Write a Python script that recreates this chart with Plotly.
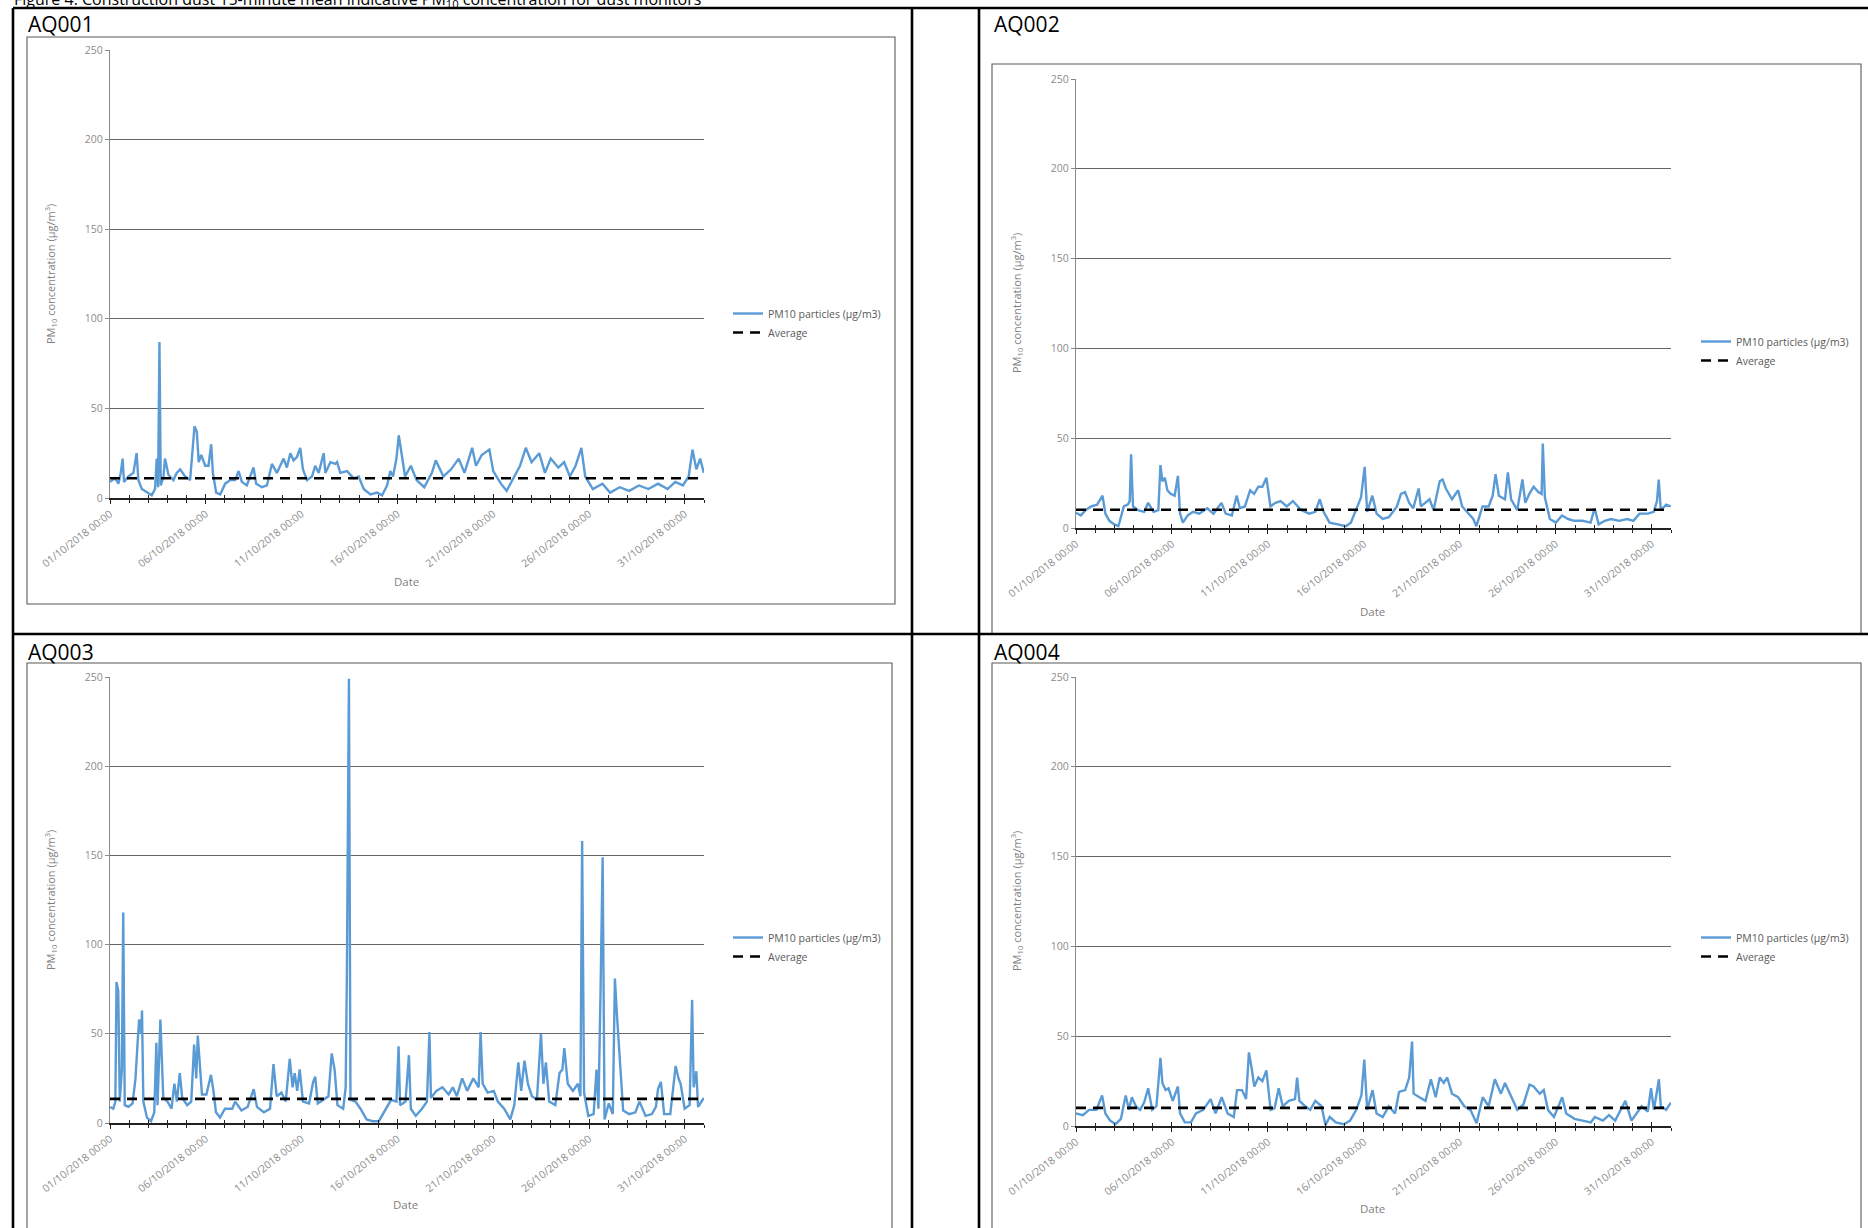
import pandas as pd
import plotly.graph_objects as go

W, H = 1868, 1228
START = pd.Timestamp("2018-10-01 00:00")
END = pd.Timestamp("2018-11-01 00:00")

figure_title = ("Figure 4: Construction dust 15-minute mean indicative PM<sub>10</sub> "
                "concentration for dust monitors")
monitors = ["AQ001", "AQ002", "AQ003", "AQ004"]
series_names = ["PM10 particles (µg/m3)", "Average"]
tick_days = [0, 5, 10, 15, 20, 25, 30]
tick_labels = ["01/10/2018 00:00", "06/10/2018 00:00", "11/10/2018 00:00", "16/10/2018 00:00",
               "21/10/2018 00:00", "26/10/2018 00:00", "31/10/2018 00:00"]
y_ticks = [0, 50, 100, 150, 200, 250]
y_title = "PM<sub>10</sub> concentration (µg/m<sup>3</sup>)"
x_title = "Date"

# ---- readings (days since 01/10/2018 00:00, PM10 µg/m3) ----
aq001_day = [0.00, 0.26, 0.44, 0.56, 0.66, 0.73, 0.96, 1.22, 1.39, 1.48,
             1.66, 1.92, 2.18, 2.35, 2.44, 2.51, 2.58, 2.65, 2.79, 2.87,
             3.05, 3.31, 3.48, 3.66, 3.92, 4.18, 4.41, 4.53, 4.63, 4.76,
             4.97, 5.14, 5.28, 5.37, 5.54, 5.75, 6.01, 6.27, 6.53, 6.71,
             6.88, 7.14, 7.49, 7.63, 7.93, 8.19, 8.45, 8.71, 8.89, 9.06,
             9.23, 9.41, 9.58, 9.76, 9.93, 10.07, 10.28, 10.54, 10.71, 10.89,
             11.15, 11.24, 11.50, 11.76, 11.85, 12.02, 12.37, 12.54, 12.72, 12.98,
             13.24, 13.59, 13.94, 14.20, 14.46, 14.63, 14.77, 14.95, 15.07, 15.4,
             15.7, 16.0, 16.4, 16.8, 17.0, 17.4, 17.8, 18.2, 18.5, 18.9,
             19.1, 19.4, 19.8, 20.0, 20.4, 20.7, 21.1, 21.4, 21.7, 22.0,
             22.4, 22.7, 23.0, 23.4, 23.7, 24.0, 24.3, 24.6, 24.8, 25.2,
             25.7, 26.1, 26.6, 27.1, 27.6, 28.1, 28.6, 29.1, 29.5, 29.9,
             30.2, 30.4, 30.6, 30.8, 30.99]
aq001_pm10 = [9, 11, 8, 14, 22, 9, 12, 14, 25, 10,
              5, 3, 1.5, 5, 22, 6, 87, 7, 12, 22,
              13, 10, 14, 16, 12, 10, 40, 37, 20, 24,
              18, 18, 30, 14, 3, 2, 8, 10, 10, 15,
              9, 7, 17, 8, 6, 7, 19, 14, 18, 22,
              17, 25, 21, 23, 28, 16, 10, 12, 18, 14,
              25, 14, 20, 19, 20, 14, 15, 13, 11, 12,
              5, 2, 3, 1.5, 7, 15, 12, 22, 35, 12,
              18, 10, 6, 14, 21, 12, 16, 22, 14, 28,
              18, 24, 27, 15, 8, 4, 12, 18, 28, 20,
              25, 14, 22, 17, 20, 12, 18, 28, 12, 5,
              8, 3, 6, 4, 7, 5, 8, 5, 9, 7,
              12, 27, 16, 22, 14]

aq002_day = [0.00, 0.25, 0.51, 0.79, 1.10, 1.38, 1.53, 1.74, 2.00, 2.21,
             2.49, 2.70, 2.80, 2.87, 2.97, 3.23, 3.55, 3.76, 4.04, 4.29,
             4.40, 4.50, 4.63, 4.76, 4.93, 5.14, 5.31, 5.42, 5.57, 5.82,
             6.10, 6.42, 6.84, 7.16, 7.58, 7.80, 8.12, 8.37, 8.54, 8.80,
             9.07, 9.28, 9.50, 9.71, 9.92, 10.13, 10.39, 10.66, 10.98, 11.30,
             11.73, 12.15, 12.47, 12.70, 12.90, 13.21, 13.64, 14.06, 14.32, 14.60,
             14.85, 15.04, 15.17, 15.44, 15.66, 15.98, 16.30, 16.72, 16.93, 17.14,
             17.36, 17.57, 17.85, 17.97, 18.21, 18.42, 18.63, 18.95, 19.10, 19.27,
             19.59, 19.91, 20.12, 20.44, 20.70, 20.86, 21.18, 21.50, 21.71, 21.86,
             22.03, 22.35, 22.50, 22.67, 22.99, 23.26, 23.41, 23.62, 23.84, 24.09,
             24.26, 24.32, 24.43, 24.69, 25.00, 25.32, 25.64, 25.96, 26.39, 26.81,
             27.02, 27.23, 27.55, 27.87, 28.30, 28.72, 29.04, 29.36, 29.79, 30.10,
             30.27, 30.36, 30.47, 30.75, 30.99]
aq002_pm10 = [8.5, 7, 10, 12, 13, 18, 8, 4, 2, 1,
              12, 13, 15, 41, 12, 10, 9, 14, 9, 10,
              35, 26, 28, 21, 19, 18, 29, 8, 3, 7,
              9, 8, 11, 8, 14, 8, 7, 18, 11, 12,
              21, 19, 23, 23, 28, 12, 14, 15, 12, 15,
              10, 8, 9, 16, 9, 3, 2, 1, 3, 10,
              17, 34, 9, 18, 8, 5, 6, 12, 19, 20,
              14, 11, 22, 12, 14, 16, 10, 26, 27, 22,
              16, 21, 12, 8, 5, 1, 12, 12, 18, 30,
              18, 16, 31, 16, 10, 27, 14, 19, 23, 20,
              19, 47, 17, 5, 3, 7, 5, 4, 4, 3,
              11, 2, 4, 5, 4, 5, 4, 8, 8, 9,
              15, 27, 10, 13, 12]

aq003_day = [0.00, 0.17, 0.28, 0.34, 0.43, 0.51, 0.62, 0.69, 0.77, 0.96,
             1.18, 1.33, 1.44, 1.52, 1.63, 1.67, 1.74, 1.93, 2.14, 2.31,
             2.42, 2.48, 2.63, 2.70, 2.78, 3.00, 3.21, 3.36, 3.49, 3.64,
             3.77, 4.03, 4.24, 4.39, 4.50, 4.58, 4.67, 4.80, 5.03, 5.27,
             5.40, 5.53, 5.74, 6.00, 6.38, 6.53, 6.86, 7.18, 7.50, 7.67,
             8.03, 8.35, 8.53, 8.70, 8.95, 9.17, 9.38, 9.53, 9.64, 9.77,
             9.90, 10.07, 10.39, 10.60, 10.71, 10.84, 11.14, 11.40, 11.57, 11.72,
             11.87, 12.17, 12.30, 12.36, 12.47, 12.55, 12.81, 13.07, 13.39, 13.71,
             14.03, 14.31, 14.67, 14.95, 15.06, 15.14, 15.42, 15.60, 15.70, 15.96,
             16.28, 16.54, 16.67, 16.75, 17.03, 17.35, 17.67, 17.89, 18.10, 18.38,
             18.64, 18.96, 19.24, 19.34, 19.45, 19.71, 20.03, 20.24, 20.57, 20.89,
             21.10, 21.31, 21.46, 21.63, 21.81, 22.02, 22.28, 22.49, 22.62, 22.75,
             22.92, 23.24, 23.46, 23.61, 23.71, 23.89, 24.16, 24.42, 24.55, 24.64,
             24.74, 24.96, 25.24, 25.39, 25.49, 25.60, 25.71, 25.81, 26.03, 26.24,
             26.35, 26.46, 26.61, 26.78, 27.10, 27.42, 27.63, 27.95, 28.28, 28.49,
             28.60, 28.75, 28.92, 29.24, 29.52, 29.67, 29.78, 29.99, 30.25, 30.38,
             30.46, 30.60, 30.69, 30.85, 30.99]
aq003_pm10 = [9, 8, 12, 79, 74, 12, 30, 118, 10, 9,
              11, 25, 45, 58, 50, 63, 12, 3, 1, 6,
              45, 10, 58, 35, 14, 12, 8, 22, 12, 28,
              14, 10, 12, 44, 25, 49, 37, 16, 16, 27,
              18, 6, 3, 8, 8, 12, 7, 9, 19, 9,
              6, 8, 33, 15, 17, 12, 36, 20, 28, 18,
              30, 12, 11, 23, 26, 11, 13, 15, 39, 30,
              10, 8, 20, 81, 249, 13, 12, 8, 2, 1,
              1, 6, 13, 12, 43, 10, 12, 38, 8, 4,
              8, 12, 51, 14, 18, 20, 16, 20, 15, 25,
              18, 25, 20, 51, 22, 17, 18, 12, 8, 2,
              10, 34, 18, 35, 22, 15, 13, 50, 22, 34,
              12, 10, 28, 30, 42, 22, 18, 22, 15, 158,
              17, 4, 5, 30, 8, 73, 149, 2, 11, 5,
              81, 60, 35, 7, 5, 6, 12, 4, 5, 9,
              19, 23, 5, 5, 32, 25, 22, 8, 10, 69,
              20, 29, 9, 12, 14]

aq004_day = [0.00, 0.36, 0.68, 1.06, 1.36, 1.53, 1.78, 2.06, 2.34, 2.59,
             2.76, 2.91, 3.12, 3.34, 3.55, 3.76, 3.97, 4.19, 4.40, 4.50,
             4.67, 4.82, 5.04, 5.31, 5.42, 5.67, 5.99, 6.25, 6.63, 7.01,
             7.27, 7.59, 7.90, 8.22, 8.39, 8.65, 8.86, 9.01, 9.14, 9.29,
             9.50, 9.71, 9.92, 10.14, 10.35, 10.56, 10.77, 11.09, 11.41, 11.52,
             11.64, 11.94, 12.20, 12.47, 12.79, 13.00, 13.22, 13.54, 13.96, 14.28,
             14.60, 14.87, 15.02, 15.17, 15.45, 15.66, 15.98, 16.30, 16.62, 16.83,
             17.15, 17.36, 17.51, 17.59, 17.89, 18.21, 18.49, 18.74, 18.95, 19.16,
             19.34, 19.59, 19.91, 20.23, 20.55, 20.87, 21.19, 21.50, 21.82, 22.14,
             22.35, 22.67, 22.99, 23.31, 23.63, 23.84, 24.16, 24.37, 24.59, 24.90,
             25.33, 25.54, 25.97, 26.39, 26.82, 27.03, 27.45, 27.77, 28.09, 28.62,
             28.94, 29.47, 29.79, 29.96, 30.11, 30.37, 30.47, 30.75, 30.99]
aq004_pm10 = [7, 6, 9, 9, 17, 7, 3, 1, 4, 17,
              9, 16, 11, 9, 13, 21, 9, 11, 38, 24,
              20, 21, 14, 22, 7, 2, 2, 7, 9, 15,
              7, 16, 7, 5, 20, 20, 15, 41, 33, 22,
              27, 25, 31, 9, 10, 21, 11, 14, 15, 27,
              14, 11, 9, 14, 11, 0.5, 5, 2, 1, 3,
              9, 17, 37, 9, 20, 7, 5, 11, 7, 19,
              20, 27, 47, 18, 16, 14, 26, 16, 27, 24,
              27, 18, 16, 11, 9, 1.5, 16, 11, 26, 18,
              24, 16, 9, 12, 23, 22, 18, 20, 9, 5,
              16, 7, 4, 3, 2, 5, 3, 6, 3, 14,
              3, 11, 8, 21, 9, 26, 11, 9, 13]

average_pm10 = [11.0, 10.2, 13.5, 10.1]

series_days = [aq001_day, aq002_day, aq003_day, aq004_day]
series_pm10 = [aq001_pm10, aq002_pm10, aq003_pm10, aq004_pm10]

# ---- page geometry (pixels) ----
panels = [
    dict(plot=(110, 704, 50, 498), box=(27, 37, 895, 604), label=(26, 24),
         legend=(728, 299), date=(406, 581), ytitle=(50, 274)),
    dict(plot=(1076, 1671, 79, 528), box=(992, 64, 1861, 634), label=(992, 24),
         legend=(1696, 327), date=(1372, 611), ytitle=(1016, 303)),
    dict(plot=(110, 704, 677, 1123), box=(27, 663, 892, 1240), label=(26, 652),
         legend=(728, 923), date=(405, 1204), ytitle=(50, 900)),
    dict(plot=(1076, 1671, 677, 1126), box=(992, 663, 1861, 1240), label=(992, 652),
         legend=(1696, 923), date=(1372, 1208), ytitle=(1016, 901)),
]


def fx(p):
    return p / W


def fy(p):
    return 1 - p / H


def to_time(days):
    return [START + pd.Timedelta(days=d) for d in days]


FONT = "Open Sans, Noto Sans, sans-serif"
BLUE = "#5B9BD5"
tick_times = to_time(tick_days)

fig = go.Figure()
layout = dict(width=W, height=H, template="none",
              margin=dict(l=0, r=0, t=0, b=0, pad=0, autoexpand=False),
              paper_bgcolor="white", plot_bgcolor="rgba(0,0,0,0)",
              font=dict(family=FONT, color="#595959"), showlegend=True)
shapes = []
annotations = []

for i, p in enumerate(panels):
    k = i + 1
    ko = i + 5
    x0, x1, y0, y1 = p["plot"]
    xdom = [fx(x0), fx(x1)]
    ydom = [fy(y1), fy(y0)]
    leg = "legend" if k == 1 else f"legend{k}"

    fig.add_trace(go.Scatter(
        x=to_time(series_days[i]), y=series_pm10[i], mode="lines",
        name=series_names[0], line=dict(color=BLUE, width=2.4),
        xaxis=f"x{k}", yaxis=f"y{k}", legend=leg, hoverinfo="skip"))
    fig.add_trace(go.Scatter(
        x=[START, END], y=[average_pm10[i], average_pm10[i]], mode="lines",
        name=series_names[1], line=dict(color="black", width=2.6, dash="10px,7px"),
        xaxis=f"x{ko}", yaxis=f"y{k}", legend=leg, hoverinfo="skip"))

    common_x = dict(domain=xdom, range=[START, END], type="date", automargin=False,
                    tickvals=tick_times, showgrid=False, zeroline=False)
    layout[f"xaxis{k}"] = dict(
        **common_x, anchor=f"y{k}", ticktext=tick_labels, tickangle=-38,
        ticks="outside", ticklen=4, tickwidth=1.2, tickcolor="#222",
        showline=True, linecolor="#222", linewidth=1.6,
        tickfont=dict(family=FONT, size=10.5, color="#8c8c8c"),
        minor=dict(dtick=86400000, tick0=START, ticks="outside", ticklen=3,
                   tickwidth=1.2, tickcolor="#222", showgrid=False))
    layout[f"xaxis{ko}"] = dict(
        **common_x, anchor=f"y{k}", overlaying=f"x{k}", showticklabels=False,
        ticks="inside", ticklen=4, tickwidth=1.2, tickcolor="#222", showline=False,
        minor=dict(dtick=86400000, tick0=START, ticks="inside", ticklen=3,
                   tickwidth=1.2, tickcolor="#222", showgrid=False))
    layout[f"yaxis{k}"] = dict(
        domain=ydom, anchor=f"x{k}", range=[0, 250], tickvals=y_ticks, automargin=False,
        showgrid=True, gridcolor="#666666", gridwidth=1.3, zeroline=False,
        showline=True, linecolor="#8a8a8a", linewidth=1.2,
        ticks="outside", ticklen=4, tickcolor="#8a8a8a",
        tickfont=dict(family=FONT, size=10.5, color="#8c8c8c"))
    layout[leg] = dict(x=fx(p["legend"][0]), y=fy(p["legend"][1]),
                       xanchor="left", yanchor="top", bgcolor="rgba(0,0,0,0)",
                       borderwidth=0,
                       font=dict(family=FONT, size=10.5, color="#595959"),
                       tracegroupgap=0, itemwidth=30)

    bx0, by0, bx1, by1 = p["box"]
    shapes.append(dict(type="rect", xref="paper", yref="paper",
                       x0=fx(bx0), x1=fx(bx1), y0=fy(by1), y1=fy(by0),
                       line=dict(color="#595959", width=1.1), layer="below"))
    annotations.append(dict(text=monitors[i], xref="paper", yref="paper",
                            x=fx(p["label"][0]), y=fy(p["label"][1]),
                            xanchor="left", yanchor="middle", showarrow=False,
                            font=dict(family=FONT, size=21, color="black")))
    annotations.append(dict(text=x_title, xref="paper", yref="paper",
                            x=fx(p["date"][0]), y=fy(p["date"][1]),
                            xanchor="center", yanchor="middle", showarrow=False,
                            font=dict(family=FONT, size=11.5, color="#7f7f7f")))
    annotations.append(dict(text=y_title, xref="paper", yref="paper", textangle=-90,
                            x=fx(p["ytitle"][0]), y=fy(p["ytitle"][1]),
                            xanchor="center", yanchor="middle", showarrow=False,
                            font=dict(family=FONT, size=11, color="#7f7f7f")))

# table rules
for (ax0, ay0, ax1, ay1) in [(13, 8, 1880, 8), (13, 8, 13, 1240), (912, 8, 912, 1240),
                             (979, 8, 979, 1240), (13, 634, 1880, 634)]:
    shapes.append(dict(type="line", xref="paper", yref="paper",
                       x0=fx(ax0), x1=fx(ax1), y0=fy(ay0), y1=fy(ay1),
                       line=dict(color="black", width=2.6)))

annotations.append(dict(text=figure_title, xref="paper", yref="paper",
                        x=fx(12), y=fy(-0.5), xanchor="left", yanchor="middle",
                        showarrow=False, font=dict(family=FONT, size=16, color="black")))

layout["shapes"] = shapes
layout["annotations"] = annotations
fig.update_layout(**layout)
fig.write_html("out.html", config={"displayModeBar": False},
               post_script="document.body.style.margin='0px';"
                           "document.body.style.overflow='hidden';")
